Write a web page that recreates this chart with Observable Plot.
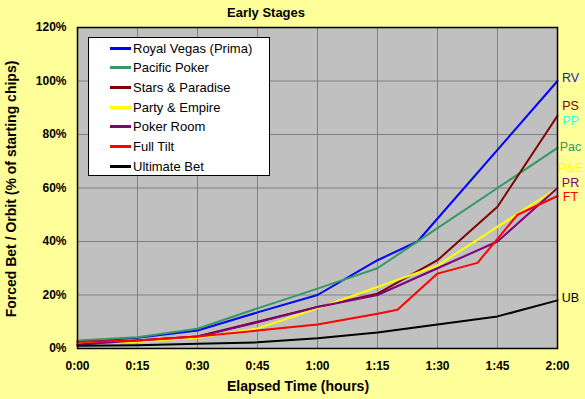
<!DOCTYPE html>
<html>
<head>
<meta charset="utf-8">
<script src="https://cdn.jsdelivr.net/npm/d3@7"></script>
<script src="https://cdn.jsdelivr.net/npm/@observablehq/plot@0.6"></script>
<style>
  html, body { margin: 0; padding: 0; background: #ffff99; }
  #wrap { position: relative; width: 585px; height: 399px; background: #ffff99; overflow: hidden;
          font-family: Arial, "Liberation Sans", sans-serif; }
  #wrap svg { position: absolute; left: 0; top: 0; }
  .lbl { position: absolute; font-weight: bold; color: #000; white-space: nowrap; line-height: 1; }
  #title { font-size: 13px; left: 266px; top: 12px; transform: translate(-50%, -50%); }
  #xlabel { font-size: 14px; left: 298px; top: 386px; transform: translate(-50%, -50%); }
  #ylabel { font-size: 14px; left: 11px; top: 189px; transform: translate(-50%, -50%) rotate(-90deg); }
  #legend { position: absolute; left: 88px; top: 37px; width: 182px; height: 139px; background: #fff;
            border: 1px solid #000; box-sizing: border-box; }
  .row { position: absolute; left: 0; height: 16px; display: flex; align-items: center; font-size: 13px; }
  .sw { position: absolute; left: 21px; width: 21px; height: 3px; }
  .tx { position: absolute; left: 44px; white-space: nowrap; }
</style>
</head>
<body>
<div id="wrap">
  <div id="title" class="lbl">Early Stages</div>
  <div id="xlabel" class="lbl">Elapsed Time (hours)</div>
  <div id="ylabel" class="lbl">Forced Bet / Orbit (% of starting chips)</div>
</div>
<script>
// ---- data (minutes elapsed, % of starting chips) ----
const seriesNames = ["Royal Vegas (Prima)", "Pacific Poker", "Stars & Paradise", "Party & Empire", "Poker Room", "Full Tilt", "Ultimate Bet"];
const seriesColors = ["#0000ff", "#339966", "#800000", "#ffff00", "#800080", "#ff0000", "#000000"];

const royalVegas   = [[0,2.5],[15,4],[30,6.7],[45,13.5],[60,20],[75,33],[85,40],[120,100]];
const pacificPoker = [[0,3],[15,4.2],[30,7.4],[45,15],[60,22.4],[75,30],[90,45],[105,60],[120,75]];
const starsParadise= [[0,1.5],[15,3],[30,4.5],[45,10],[60,15.5],[75,20.5],[90,33],[105,53],[120,87]];
const partyEmpire  = [[0,2],[15,2.5],[30,4],[45,7.5],[60,15],[75,23],[90,31],[120,60]];
const pokerRoom    = [[0,1.5],[15,3],[30,4.5],[45,9.8],[60,15.5],[75,20],[90,30],[105,40],[120,60]];
const fullTilt     = [[0,2.4],[15,3],[30,4.5],[45,6.7],[60,9],[75,13],[80,14.5],[90,28],[100,32],[110,50],[120,57]];
const ultimateBet  = [[0,1],[15,1.2],[30,1.8],[45,2.3],[60,3.8],[75,6],[90,9],[105,12],[120,18]];
const seriesValues = [royalVegas, pacificPoker, starsParadise, partyEmpire, pokerRoom, fullTilt, ultimateBet];

const endLabels      = ["RV", "PS", "PP", "Pac", "P&E", "PR", "FT", "UB"];
const endLabelColors = ["#1a1acc", "#800000", "#33ffff", "#339966", "#ffff00", "#800080", "#ff0000", "#000000"];
const endLabelValues = [101, 90.5, 85, 75.5, 67.3, 62, 56.7, 19];

const xTicks = [0, 15, 30, 45, 60, 75, 90, 105, 120];
const xTickLabels = ["0:00", "0:15", "0:30", "0:45", "1:00", "1:15", "1:30", "1:45", "2:00"];
const yTicks = [0, 20, 40, 60, 80, 100, 120];

// ---- build tables ----
const rows = [];
seriesNames.forEach((name, i) => {
  seriesValues[i].forEach(([t, v]) => rows.push({series: name, color: seriesColors[i], t, v}));
});
const labels = endLabels.map((text, i) => ({text, color: endLabelColors[i], v: endLabelValues[i], t: 120}));

const chart = Plot.plot({
  width: 585,
  height: 399,
  marginLeft: 77,
  marginRight: 28,
  marginTop: 27,
  marginBottom: 51,
  style: {background: "transparent", fontFamily: "Arial, 'Liberation Sans', sans-serif", fontSize: "12px", fontWeight: "bold", color: "#000"},
  x: {domain: [0, 120], ticks: xTicks, label: null},
  y: {domain: [0, 120], ticks: yTicks, label: null},
  color: {type: "identity"},
  marks: [
    Plot.frame({fill: "#c0c0c0"}),
    Plot.gridX(xTicks, {stroke: "#808080", strokeOpacity: 1, strokeWidth: 1}),
    Plot.gridY(yTicks, {stroke: "#808080", strokeOpacity: 1, strokeWidth: 1}),
    Plot.line(rows, {x: "t", y: "v", z: "series", stroke: "color", strokeWidth: 2}),
    Plot.text(labels, {x: "t", y: "v", text: "text", fill: "color", dx: 13, textAnchor: "middle",
                       fontSize: 12.5, fontWeight: "normal"}),
    Plot.frame({stroke: "#000", strokeWidth: 1.5}),
    Plot.axisX(xTicks, {tickSize: 0, tickPadding: 13, tickFormat: (d) => xTickLabels[xTicks.indexOf(d)], label: null}),
    Plot.axisY(yTicks, {tickSize: 0, tickPadding: 11, tickFormat: d => d + "%", label: null})
  ]
});
const wrap = document.getElementById("wrap");
wrap.insertBefore(chart, wrap.firstChild);

// ---- legend ----
const legend = document.createElement("div");
legend.id = "legend";
seriesNames.forEach((name, i) => {
  const row = document.createElement("div");
  row.className = "row";
  row.style.top = (2 + i * 19.7) + "px";
  const sw = document.createElement("div");
  sw.className = "sw";
  sw.style.background = seriesColors[i];
  const tx = document.createElement("div");
  tx.className = "tx";
  tx.textContent = name;
  row.appendChild(sw);
  row.appendChild(tx);
  legend.appendChild(row);
});
wrap.appendChild(legend);
</script>
</body>
</html>
